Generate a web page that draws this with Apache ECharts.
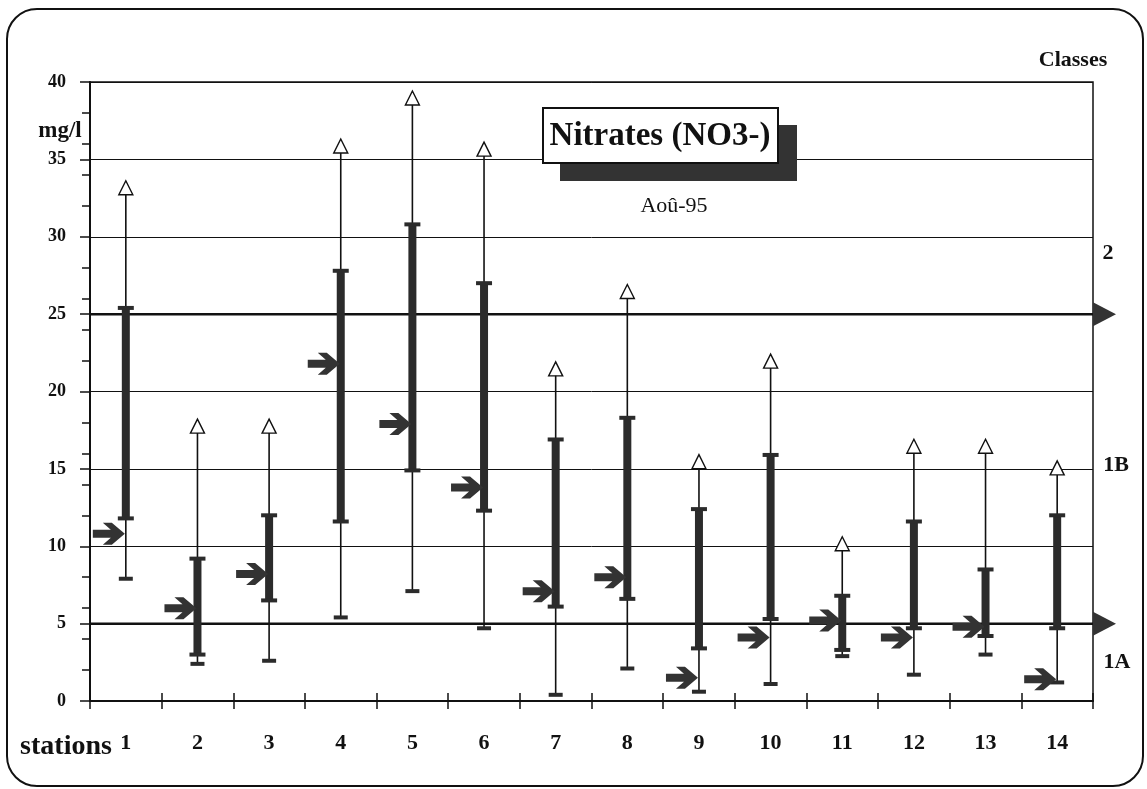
<!DOCTYPE html>
<html>
<head>
<meta charset="utf-8">
<script src="https://cdn.jsdelivr.net/npm/echarts@6/dist/echarts.min.js"></script>
<style>
html,body{margin:0;padding:0;background:#fff;}
#chart{width:1147px;height:789px;}
</style>
</head>
<body>
<div id="chart"></div>
<script>
// ---- data ----
const stations = ['1','2','3','4','5','6','7','8','9','10','11','12','13','14'];
const maxVals  = [33.1, 17.7, 17.7, 35.8, 38.9, 35.6, 21.4, 26.4, 15.4, 21.9, 10.1, 16.4, 16.4, 15.0];
const q3Vals   = [25.4,  9.2, 12.0, 27.8, 30.8, 27.0, 16.9, 18.3, 12.4, 15.9,  6.8, 11.6,  8.5, 12.0];
const q1Vals   = [11.8,  3.0,  6.5, 11.6, 14.9, 12.3,  6.1,  6.6,  3.4,  5.3,  3.3,  4.7,  4.2,  4.7];
const minVals  = [ 7.9,  2.4,  2.6,  5.4,  7.1,  4.7,  0.4,  2.1,  0.6,  1.1,  2.9,  1.7,  3.0,  1.2];
const meanVals = [10.8,  6.0,  8.2, 21.8, 17.9, 13.8,  7.1,  8.0,  1.5,  4.1,  5.2,  4.1,  4.8,  1.4];
const yTicks   = [0, 40, 5];          // min, max, interval
const classThresholds = [25, 5];
const classNames = ['2', '1B', '1A'];
const titleText = 'Nitrates (NO3-)';
const subTitleText = 'Aoû-95';

const SERIF = '"Liberation Serif","DejaVu Serif",serif';
const INK = '#111';
const DARK = '#2b2b2b';

const glyphData = stations.map((s, i) => [i, minVals[i], q1Vals[i], q3Vals[i], maxVals[i], meanVals[i]]);

function renderGlyph(params, api) {
  const i = api.value(0);
  const pMin = api.coord([i, api.value(1)]);
  const pQ1 = api.coord([i, api.value(2)]);
  const pQ3 = api.coord([i, api.value(3)]);
  const pMax = api.coord([i, api.value(4)]);
  const pMean = api.coord([i, api.value(5)]);
  const x = pMin[0];
  const children = [];
  // thin whisker line
  children.push({type:'line', shape:{x1:x, y1:pMin[1], x2:x, y2:pMax[1]+5},
    style:{stroke:INK, lineWidth:1.6}});
  // thick bar
  children.push({type:'rect', shape:{x:x-4, y:pQ3[1], width:8, height:pQ1[1]-pQ3[1]},
    style:{fill:DARK}});
  // caps
  [[pMin,14],[pQ1,16],[pQ3,16]].forEach(([p,w]) => {
    children.push({type:'rect', shape:{x:x-w/2, y:p[1]-2, width:w, height:4}, style:{fill:DARK}});
  });
  // hollow triangle at max
  const ty = pMax[1];
  children.push({type:'polygon', shape:{points:[[x, ty-8],[x-7, ty+6],[x+7, ty+6]]},
    style:{fill:'#fff', stroke:INK, lineWidth:1.4}});
  // arrow at mean pointing right to the bar
  const ax = x - 1, ay = pMean[1];
  children.push({type:'polygon', shape:{points:[
      [ax-32, ay-4],[ax-14, ay-4],[ax-22, ay-11],[ax-13, ay-11],[ax, ay],
      [ax-13, ay+11],[ax-22, ay+11],[ax-14, ay+4],[ax-32, ay+4]]},
    style:{fill:'#333'}});
  return {type:'group', children};
}

function renderClass(params, api) {
  const cs = params.coordSys;
  const p = api.coord([0, api.value(1)]);
  const xr = cs.x + cs.width;
  return {type:'group', children:[
    {type:'line', shape:{x1:cs.x, y1:p[1], x2:xr, y2:p[1]}, style:{stroke:INK, lineWidth:2.5}},
    {type:'polygon', shape:{points:[[xr, p[1]-12],[xr+23, p[1]],[xr, p[1]+12]]}, style:{fill:'#333'}}
  ]};
}

const chart = echarts.init(document.getElementById('chart'), null, {renderer:'canvas'});
chart.setOption({
  backgroundColor:'#fff',
  animation:false,
  grid:{left:90, right:54, top:82, bottom:88, show:true, borderColor:INK, borderWidth:1.5, backgroundColor:'transparent'},
  xAxis:[{
    type:'category', data:stations, position:'bottom', boundaryGap:true,
    axisLine:{lineStyle:{color:INK, width:2}},
    axisTick:{show:true, length:8, lineStyle:{color:INK, width:1.5}},
    axisLabel:{color:INK, fontFamily:SERIF, fontWeight:'bold', fontSize:22, margin:31}
  },{
    type:'category', data:stations, position:'bottom', boundaryGap:true,
    axisLine:{show:false},
    axisTick:{show:true, inside:true, length:8, lineStyle:{color:INK, width:1.5}},
    axisLabel:{show:false}
  }],
  yAxis:[{
    type:'value', min:yTicks[0], max:yTicks[1], interval:yTicks[2], position:'left',
    axisLine:{show:true, lineStyle:{color:INK, width:2}},
    axisTick:{show:true, length:10, lineStyle:{color:INK, width:1.5}},
    axisLabel:{color:INK, fontFamily:SERIF, fontWeight:'bold', fontSize:18, margin:24},
    splitLine:{show:true, lineStyle:{color:INK, width:1}}
  },{
    type:'value', min:yTicks[0], max:yTicks[1], interval:2, position:'left',
    axisLine:{show:false},
    axisTick:{show:true, length:8, lineStyle:{color:INK, width:1.5}},
    axisLabel:{show:false}, splitLine:{show:false}
  }],
  series:[{
    type:'custom', name:'classes', xAxisIndex:0, yAxisIndex:0, clip:false, z:3,
    data:classThresholds.map(v => [0, v]), encode:{x:0, y:1},
    renderItem:renderClass
  },{
    type:'custom', name:'nitrates', xAxisIndex:0, yAxisIndex:0, clip:false, z:4,
    data:glyphData, encode:{x:0, y:[1,2,3,4,5]},
    renderItem:renderGlyph
  }],
  graphic:[
    {type:'rect', z:0, shape:{x:7, y:9, width:1136, height:777, r:30}, style:{fill:'none', stroke:INK, lineWidth:2}},
    {type:'rect', z:10, shape:{x:560, y:125, width:237, height:56}, style:{fill:'#333'}},
    {type:'rect', z:11, shape:{x:543, y:108, width:235, height:55}, style:{fill:'#fff', stroke:INK, lineWidth:2}},
    {type:'text', z:12, x:660, y:136, style:{text:titleText, fill:INK, font:'bold 33px '+SERIF, textAlign:'center', textVerticalAlign:'middle'}},
    {type:'text', z:12, x:674, y:206, style:{text:subTitleText, fill:INK, font:'22px '+SERIF, textAlign:'center', textVerticalAlign:'middle'}},
    {type:'text', z:12, x:60, y:131, style:{text:'mg/l', fill:INK, font:'bold 23px '+SERIF, textAlign:'center', textVerticalAlign:'middle'}},
    {type:'text', z:12, x:66, y:747, style:{text:'stations', fill:INK, font:'bold 28px '+SERIF, textAlign:'center', textVerticalAlign:'middle'}},
    {type:'text', z:12, x:1073, y:60, style:{text:'Classes', fill:INK, font:'bold 22px '+SERIF, textAlign:'center', textVerticalAlign:'middle'}},
    {type:'text', z:12, x:1108, y:253, style:{text:classNames[0], fill:INK, font:'bold 22px '+SERIF, textAlign:'center', textVerticalAlign:'middle'}},
    {type:'text', z:12, x:1116, y:465, style:{text:classNames[1], fill:INK, font:'bold 22px '+SERIF, textAlign:'center', textVerticalAlign:'middle'}},
    {type:'text', z:12, x:1117, y:662, style:{text:classNames[2], fill:INK, font:'bold 22px '+SERIF, textAlign:'center', textVerticalAlign:'middle'}}
  ]
});
</script>
</body>
</html>
